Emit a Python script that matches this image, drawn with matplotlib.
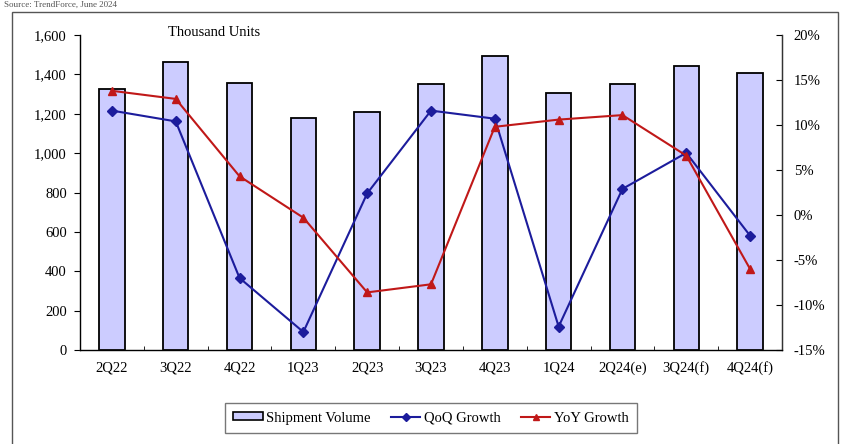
import matplotlib
matplotlib.use("Agg")
import matplotlib.pyplot as plt
from matplotlib.patches import Rectangle, Patch
from matplotlib.lines import Line2D
from matplotlib.ticker import FuncFormatter, FixedLocator
import numpy as np

plt.rcParams['font.family'] = ['Liberation Serif', 'DejaVu Serif']

quarters = ["2Q22", "3Q22", "4Q22", "1Q23", "2Q23", "3Q23", "4Q23",
            "1Q24", "2Q24(e)", "3Q24(f)", "4Q24(f)"]
shipments = [1325, 1462, 1355, 1178, 1208, 1350, 1492, 1305, 1350, 1442, 1406]
qoq_growth = [11.6, 10.4, -7.0, -13.0, 2.4, 11.6, 10.7, -12.4, 2.9, 6.9, -2.3]
yoy_growth = [13.8, 12.9, 4.3, -0.3, -8.6, -7.7, 9.8, 10.6, 11.1, 6.6, -6.0]

W, H = 848, 444
fig = plt.figure(figsize=(W / 100, H / 100), dpi=100)

# outer frame around the whole chart
fig.patches.append(Rectangle((12 / W, -0.05), (838 - 12) / W, 1 - 12 / H + 0.05,
                             transform=fig.transFigure, fill=False,
                             edgecolor="#555555", linewidth=1.0))
fig.text(4 / W, 1 - 1 / H, "Source: TrendForce, June 2024", fontsize=6.5,
         va="top", ha="left", color="#555555")

ax = fig.add_axes([80 / W, 1 - 350 / H, (782 - 80) / W, (350 - 35) / H])
x = np.arange(len(quarters))

ax.bar(x, shipments, width=0.4, color="#ccccff", edgecolor="black",
       linewidth=1.3, zorder=2)
ax.set_xlim(-0.5, len(quarters) - 0.5)
ax.set_ylim(0, 1600)
ax.set_yticks(np.arange(0, 1601, 200))
ax.yaxis.set_major_formatter(FuncFormatter(lambda v, p: f"{int(v):,}"))
ax.set_xticks(x)
ax.set_xticklabels(quarters)
ax.xaxis.set_minor_locator(FixedLocator(np.arange(0.5, len(quarters) - 1, 1)))
ax.tick_params(axis="x", which="major", length=0, pad=8, labelsize=10.5)
ax.tick_params(axis="x", which="minor", length=3, direction="in")
ax.tick_params(axis="y", direction="out", length=4, pad=5.5, labelsize=10.5)
ax.spines["top"].set_visible(False)
for s in ("left", "bottom", "right"):
    ax.spines[s].set_color("#333333")
    ax.spines[s].set_linewidth(1.0)

ax2 = ax.twinx()
ax2.plot(x, qoq_growth, color="#1c1c9c", marker="D", markersize=5,
         linewidth=1.5, zorder=3)
ax2.plot(x, yoy_growth, color="#c01818", marker="^", markersize=6,
         linewidth=1.5, zorder=3)
ax2.set_ylim(-15, 20)
ax2.set_yticks(np.arange(-15, 21, 5))
ax2.yaxis.set_major_formatter(FuncFormatter(lambda v, p: f"{int(v)}%"))
ax2.tick_params(axis="y", direction="in", length=4, pad=8.5, labelsize=10.5)
ax2.spines["top"].set_visible(False)
ax2.spines["right"].set_color("#333333")

fig.text(168 / W, 1 - 33 / H, "Thousand Units", fontsize=10.5,
         va="center", ha="left")

handles = [
    Patch(facecolor="#ccccff", edgecolor="black", linewidth=1.2),
    Line2D([0], [0], color="#1c1c9c", marker="D", markersize=4, linewidth=1.5),
    Line2D([0], [0], color="#c01818", marker="^", markersize=5, linewidth=1.5),
]
fig.legend(handles, ["Shipment Volume", "QoQ Growth", "YoY Growth"],
           loc="center", bbox_to_anchor=(431 / W, 1 - 418 / H), ncol=3,
           frameon=True, fancybox=False, edgecolor="#555555", fontsize=10.5,
           handlelength=2.0, handleheight=0.5, handletextpad=0.25,
           columnspacing=1.4, borderpad=0.6)

fig.savefig("out.png", dpi=100)
